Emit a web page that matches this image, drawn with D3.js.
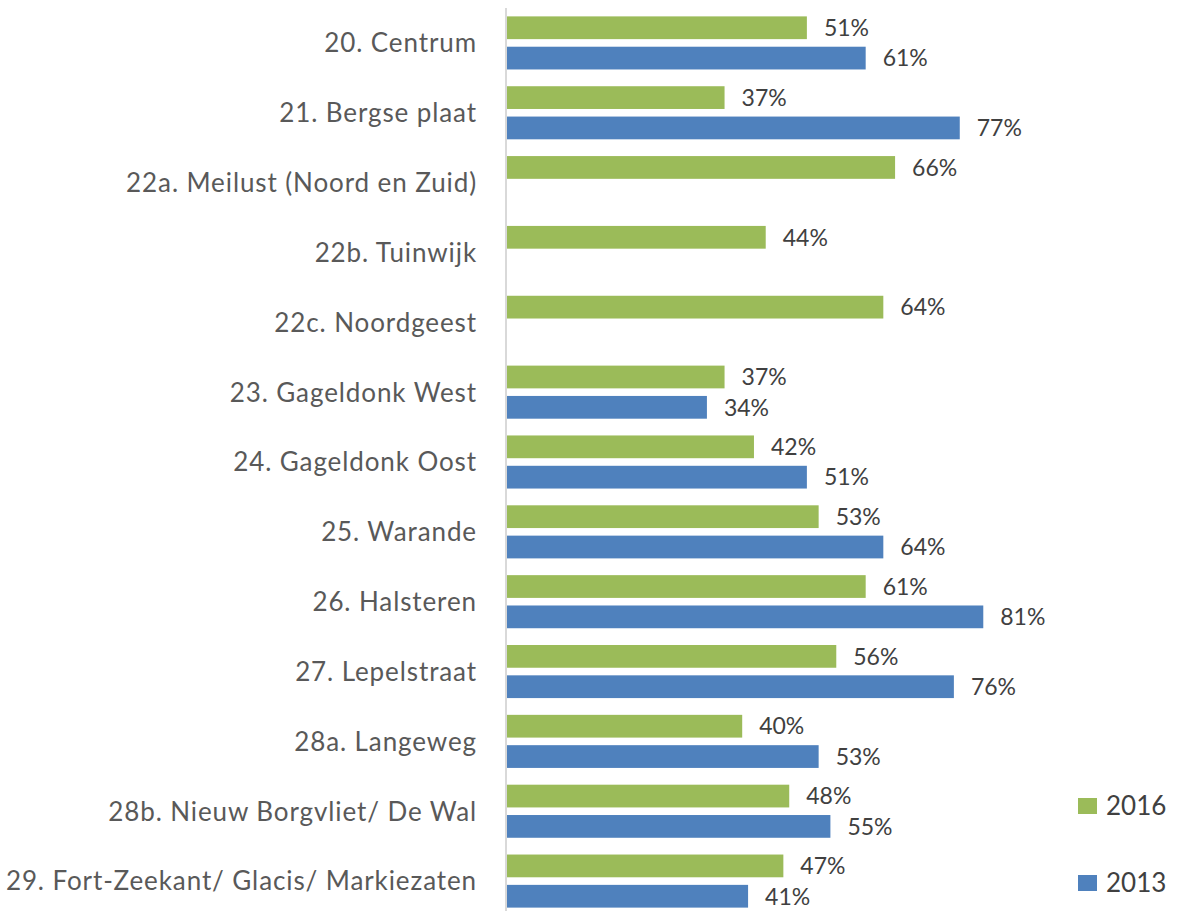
<!DOCTYPE html>
<html>
<head>
<meta charset="utf-8">
<script src="https://cdn.jsdelivr.net/npm/d3@7"></script>
<style>
  body { margin: 0; background: #fff; }
  svg { display: block; font-family: Lato, 'Open Sans', sans-serif; }
</style>
</head>
<body>
<div class="chart"></div>
<script>
var categories = [
  '20. Centrum', '21. Bergse plaat', '22a. Meilust (Noord en Zuid)', '22b. Tuinwijk',
  '22c. Noordgeest', '23. Gageldonk West', '24. Gageldonk Oost', '25. Warande',
  '26. Halsteren', '27. Lepelstraat', '28a. Langeweg', '28b. Nieuw Borgvliet/ De Wal',
  '29. Fort-Zeekant/ Glacis/ Markiezaten'
];
var series = ['2016', '2013'];
var values2016 = [51, 37, 66, 44, 64, 37, 42, 53, 61, 56, 40, 48, 47];
var values2013 = [61, 77, null, null, null, 34, 51, 64, 81, 76, 53, 55, 41];

var width = 1179, height = 911;
var colors = { '2016': '#9bbb59', '2013': '#4f81bd' };

var svg = d3.select('.chart').append('svg')
  .attr('width', width)
  .attr('height', height);

var x = d3.scaleLinear().domain([0, 100]).range([507, 1095]);
var y = d3.scaleBand().domain(categories).range([8, 916])
  .paddingInner(0.24).paddingOuter(0.12);
var ySub = d3.scaleBand().domain(series).range([0, y.bandwidth()]).paddingInner(0.25);

var rows = [];
categories.forEach(function(c, i) {
  rows.push({ cat: c, s: '2016', v: values2016[i] });
  if (values2013[i] != null) rows.push({ cat: c, s: '2013', v: values2013[i] });
});

// category labels
svg.append('g').selectAll('text')
  .data(categories)
  .enter().append('text')
  .attr('x', 477)
  .attr('y', function(d) { return y(d) + y.bandwidth() / 2; })
  .attr('dy', '0.36em')
  .attr('text-anchor', 'end')
  .attr('fill', '#595959')
  .style('font-size', '26px')
  .style('letter-spacing', '0.9px')
  .text(function(d) { return d; });

// bars
svg.append('g').selectAll('rect')
  .data(rows)
  .enter().append('rect')
  .attr('x', x(0))
  .attr('y', function(d) { return y(d.cat) + ySub(d.s); })
  .attr('width', function(d) { return x(d.v) - x(0); })
  .attr('height', ySub.bandwidth())
  .attr('fill', function(d) { return colors[d.s]; });

// value labels
svg.append('g').selectAll('text')
  .data(rows)
  .enter().append('text')
  .attr('x', function(d) { return x(d.v) + 17; })
  .attr('y', function(d) { return y(d.cat) + ySub(d.s) + ySub.bandwidth() / 2; })
  .attr('dy', '0.36em')
  .attr('fill', '#404040')
  .style('font-size', '23px')
  .text(function(d) { return d.v + '%'; });

// axis line
svg.append('line')
  .attr('x1', 506).attr('x2', 506)
  .attr('y1', 8).attr('y2', height)
  .attr('stroke', '#d9d9d9')
  .attr('stroke-width', 2);

// legend
var legendY = { '2016': 798, '2013': 875 };
var legend = svg.append('g').selectAll('g')
  .data(series)
  .enter().append('g')
  .attr('transform', function(d) { return 'translate(1078,' + legendY[d] + ')'; });
legend.append('rect')
  .attr('width', 19).attr('height', 16)
  .attr('fill', function(d) { return colors[d]; });
legend.append('text')
  .attr('x', 28).attr('y', 8)
  .attr('dy', '0.36em')
  .attr('fill', '#404040')
  .style('font-size', '26px')
  .text(function(d) { return d; });
</script>
</body>
</html>
